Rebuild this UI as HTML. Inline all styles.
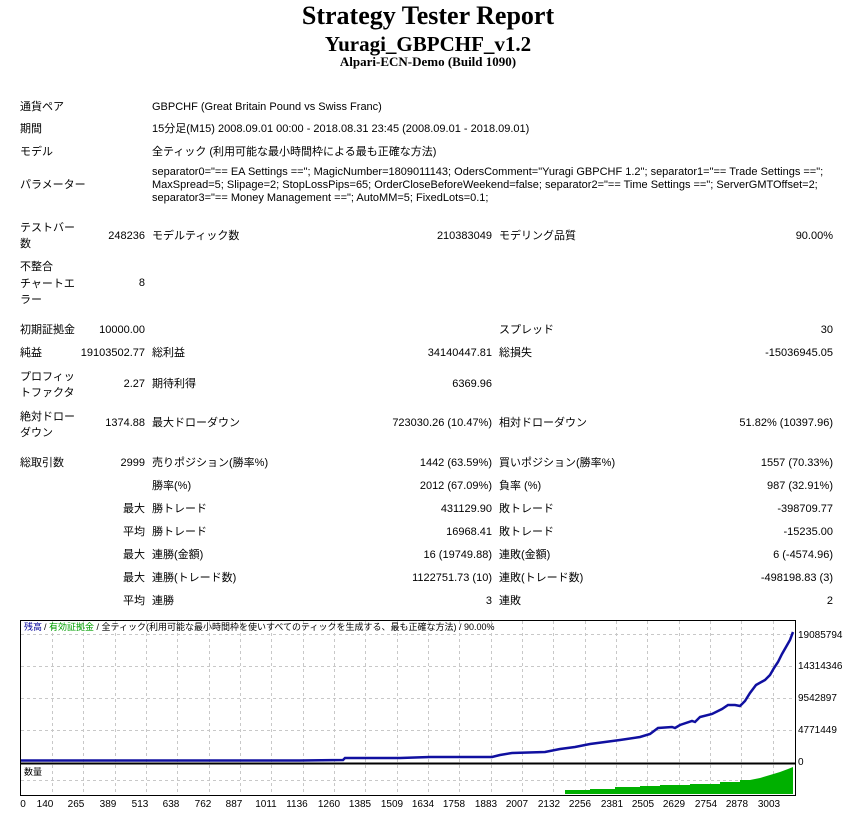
<!DOCTYPE html>
<html><head><meta charset="utf-8"><style>
body{margin:0;background:#fff;width:856px;height:814px;position:relative;overflow:hidden;font-family:"Liberation Sans","Noto Sans CJK JP",sans-serif;font-size:11px;color:#000}
.t{position:absolute;white-space:nowrap;line-height:14px}
.r{position:absolute;white-space:nowrap;line-height:14px;text-align:right}
.h{position:absolute;left:0;width:856px;text-align:center;font-family:"Liberation Serif",serif;font-weight:bold;white-space:nowrap}
</style></head><body>
<div class="h" style="top:0;font-size:26px;line-height:32px">Strategy Tester Report</div>
<div class="h" style="top:31px;font-size:21px;line-height:26px">Yuragi_GBPCHF_v1.2</div>
<div class="h" style="top:54px;font-size:13px;line-height:16px">Alpari-ECN-Demo (Build 1090)</div>

<div class="t" style="left:20px;top:100px">通貨ペア</div>
<div class="t" style="left:152px;top:100px">GBPCHF (Great Britain Pound vs Swiss Franc)</div>
<div class="t" style="left:20px;top:122px">期間</div>
<div class="t" style="left:152px;top:122px">15分足(M15) 2008.09.01 00:00 - 2018.08.31 23:45 (2008.09.01 - 2018.09.01)</div>
<div class="t" style="left:20px;top:145px">モデル</div>
<div class="t" style="left:152px;top:145px">全ティック (利用可能な最小時間枠による最も正確な方法)</div>
<div class="t" style="left:20px;top:178px">パラメーター</div>
<div class="t" style="left:152px;top:166px;line-height:13px">separator0="== EA Settings =="; MagicNumber=1809011143; OdersComment="Yuragi GBPCHF 1.2"; separator1="== Trade Settings ==";<br>MaxSpread=5; Slipage=2; StopLossPips=65; OrderCloseBeforeWeekend=false; separator2="== Time Settings =="; ServerGMTOffset=2;<br>separator3="== Money Management =="; AutoMM=5; FixedLots=0.1;</div>

<div class="t" style="left:20px;top:220px;line-height:16px">テストバー<br>数</div>
<div class="r" style="right:711px;top:229px">248236</div>
<div class="t" style="left:152px;top:229px">モデルティック数</div>
<div class="r" style="right:364px;top:229px">210383049</div>
<div class="t" style="left:499px;top:229px">モデリング品質</div>
<div class="r" style="right:23px;top:229px">90.00%</div>

<div class="t" style="left:20px;top:259px;line-height:16.5px">不整合<br>チャートエ<br>ラー</div>
<div class="r" style="right:711px;top:276px">8</div>

<div class="t" style="left:20px;top:323px">初期証拠金</div>
<div class="r" style="right:711px;top:323px">10000.00</div>
<div class="t" style="left:499px;top:323px">スプレッド</div>
<div class="r" style="right:23px;top:323px">30</div>

<div class="t" style="left:20px;top:346px">純益</div>
<div class="r" style="right:711px;top:346px">19103502.77</div>
<div class="t" style="left:152px;top:346px">総利益</div>
<div class="r" style="right:364px;top:346px">34140447.81</div>
<div class="t" style="left:499px;top:346px">総損失</div>
<div class="r" style="right:23px;top:346px">-15036945.05</div>

<div class="t" style="left:20px;top:369px;line-height:16px">プロフィッ<br>トファクタ</div>
<div class="r" style="right:711px;top:377px">2.27</div>
<div class="t" style="left:152px;top:377px">期待利得</div>
<div class="r" style="right:364px;top:377px">6369.96</div>

<div class="t" style="left:20px;top:409px;line-height:16px">絶対ドロー<br>ダウン</div>
<div class="r" style="right:711px;top:416px">1374.88</div>
<div class="t" style="left:152px;top:416px">最大ドローダウン</div>
<div class="r" style="right:364px;top:416px">723030.26 (10.47%)</div>
<div class="t" style="left:499px;top:416px">相対ドローダウン</div>
<div class="r" style="right:23px;top:416px">51.82% (10397.96)</div>

<div class="t" style="left:20px;top:456px">総取引数</div>
<div class="r" style="right:711px;top:456px">2999</div>
<div class="t" style="left:152px;top:456px">売りポジション(勝率%)</div>
<div class="r" style="right:364px;top:456px">1442 (63.59%)</div>
<div class="t" style="left:499px;top:456px">買いポジション(勝率%)</div>
<div class="r" style="right:23px;top:456px">1557 (70.33%)</div>

<div class="t" style="left:152px;top:479px">勝率(%)</div>
<div class="r" style="right:364px;top:479px">2012 (67.09%)</div>
<div class="t" style="left:499px;top:479px">負率 (%)</div>
<div class="r" style="right:23px;top:479px">987 (32.91%)</div>

<div class="r" style="right:711px;top:502px">最大</div>
<div class="t" style="left:152px;top:502px">勝トレード</div>
<div class="r" style="right:364px;top:502px">431129.90</div>
<div class="t" style="left:499px;top:502px">敗トレード</div>
<div class="r" style="right:23px;top:502px">-398709.77</div>

<div class="r" style="right:711px;top:525px">平均</div>
<div class="t" style="left:152px;top:525px">勝トレード</div>
<div class="r" style="right:364px;top:525px">16968.41</div>
<div class="t" style="left:499px;top:525px">敗トレード</div>
<div class="r" style="right:23px;top:525px">-15235.00</div>

<div class="r" style="right:711px;top:548px">最大</div>
<div class="t" style="left:152px;top:548px">連勝(金額)</div>
<div class="r" style="right:364px;top:548px">16 (19749.88)</div>
<div class="t" style="left:499px;top:548px">連敗(金額)</div>
<div class="r" style="right:23px;top:548px">6 (-4574.96)</div>

<div class="r" style="right:711px;top:571px">最大</div>
<div class="t" style="left:152px;top:571px">連勝(トレード数)</div>
<div class="r" style="right:364px;top:571px">1122751.73 (10)</div>
<div class="t" style="left:499px;top:571px">連敗(トレード数)</div>
<div class="r" style="right:23px;top:571px">-498198.83 (3)</div>

<div class="r" style="right:711px;top:594px">平均</div>
<div class="t" style="left:152px;top:594px">連勝</div>
<div class="r" style="right:364px;top:594px">3</div>
<div class="t" style="left:499px;top:594px">連敗</div>
<div class="r" style="right:23px;top:594px">2</div>

<svg style="position:absolute;left:0;top:0" width="856" height="814" font-family="Liberation Sans, Noto Sans CJK JP, sans-serif" font-size="10">
<rect x="20.5" y="620.5" width="775" height="175" fill="#fff" stroke="#000"/>
<line x1="20" y1="763.5" x2="796" y2="763.5" stroke="#000" stroke-width="2"/>
<g stroke="#c8c8c8" stroke-dasharray="3,3">
<line x1="21" y1="634.5" x2="795" y2="634.5"/><line x1="21" y1="666.5" x2="795" y2="666.5"/><line x1="21" y1="698.5" x2="795" y2="698.5"/><line x1="21" y1="730.5" x2="795" y2="730.5"/>
<line x1="21" y1="780.5" x2="795" y2="780.5"/>
<g id="vg">
<line x1="52.5" y1="621" x2="52.5" y2="795"/><line x1="83.5" y1="621" x2="83.5" y2="795"/><line x1="115.5" y1="621" x2="115.5" y2="795"/><line x1="146.5" y1="621" x2="146.5" y2="795"/><line x1="177.5" y1="621" x2="177.5" y2="795"/><line x1="209.5" y1="621" x2="209.5" y2="795"/><line x1="240.5" y1="621" x2="240.5" y2="795"/><line x1="271.5" y1="621" x2="271.5" y2="795"/><line x1="303.5" y1="621" x2="303.5" y2="795"/><line x1="334.5" y1="621" x2="334.5" y2="795"/><line x1="365.5" y1="621" x2="365.5" y2="795"/><line x1="397.5" y1="621" x2="397.5" y2="795"/><line x1="428.5" y1="621" x2="428.5" y2="795"/><line x1="459.5" y1="621" x2="459.5" y2="795"/><line x1="491.5" y1="621" x2="491.5" y2="795"/><line x1="522.5" y1="621" x2="522.5" y2="795"/><line x1="553.5" y1="621" x2="553.5" y2="795"/><line x1="585.5" y1="621" x2="585.5" y2="795"/><line x1="616.5" y1="621" x2="616.5" y2="795"/><line x1="647.5" y1="621" x2="647.5" y2="795"/><line x1="679.5" y1="621" x2="679.5" y2="795"/><line x1="710.5" y1="621" x2="710.5" y2="795"/><line x1="741.5" y1="621" x2="741.5" y2="795"/><line x1="773.5" y1="621" x2="773.5" y2="795"/>
</g></g>
<polygon fill="#00b000" points="565,794 565,790 590,790 590,789 615,789 615,787 640,787 640,786 660,786 660,785 690,785 690,784 720,784 720,782 740,782 740,780 750,780 760,778 770,775 780,772 788,769 793,767 793,794"/>
<polyline fill="none" stroke="#1010a0" stroke-width="2.5" points="21,760.5 300,760.5 343,760 345,758 400,758 430,757 492,757 500,755 512,753 545,752 560,749 575,747 590,744 605,742 620,740 640,737 650,734 658,728 672,727 675,728 680,725 692,721 695,722 700,717 712,714 722,709 728,705 735,705 740,706 745,701 750,693 756,685 765,680 770,675 774,668 778,662 782,654 786,647 790,640 793,632"/>
<text x="24" y="630" fill="#1010a0" font-size="9">残高</text>
<text x="44" y="630" font-size="9">/ <tspan fill="#00a000">有効証拠金</tspan> / 全ティック(利用可能な最小時間枠を使いすべてのティックを生成する、最も正確な方法) / 90.00%</text>
<text x="24" y="775" font-size="9">数量</text>
<g font-size="10">
<text x="798" y="638">19085794</text><text x="798" y="669">14314346</text><text x="798" y="701">9542897</text><text x="798" y="733">4771449</text><text x="798" y="765">0</text>
</g>
<g font-size="10" text-anchor="middle">
<text x="23" y="807">0</text><text x="45" y="807">140</text><text x="76" y="807">265</text><text x="108" y="807">389</text><text x="140" y="807">513</text><text x="171" y="807">638</text><text x="203" y="807">762</text><text x="234" y="807">887</text><text x="266" y="807">1011</text><text x="297" y="807">1136</text><text x="329" y="807">1260</text><text x="360" y="807">1385</text><text x="392" y="807">1509</text><text x="423" y="807">1634</text><text x="454" y="807">1758</text><text x="486" y="807">1883</text><text x="517" y="807">2007</text><text x="549" y="807">2132</text><text x="580" y="807">2256</text><text x="612" y="807">2381</text><text x="643" y="807">2505</text><text x="674" y="807">2629</text><text x="706" y="807">2754</text><text x="737" y="807">2878</text><text x="769" y="807">3003</text>
</g>
</svg>
</body></html>
